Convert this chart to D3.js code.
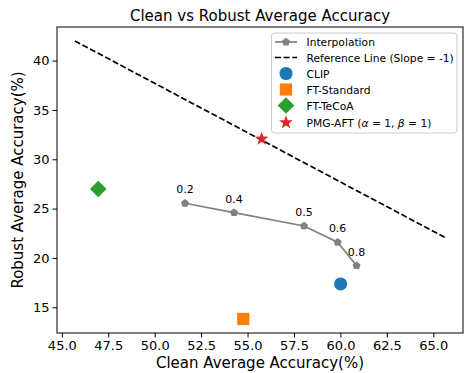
<!DOCTYPE html>
<html><head><meta charset="utf-8">
<script src="https://cdn.jsdelivr.net/npm/d3@7"></script>
<style>body{margin:0;background:#fff}svg{display:block;font-family:"DejaVu Sans",sans-serif}</style>
</head><body><svg id="c" width="464" height="373"></svg>
<script>
// Interpolation series
const interpLabels = ["0.2", "0.4", "0.5", "0.6", "0.8"];
const interpClean = [51.63, 54.27, 58.04, 59.85, 60.87];
const interpRobust = [25.54, 24.59, 23.24, 21.59, 19.21];
// Reference line (slope = -1)
const refClean = [45.7, 65.7];
const refRobust = [42.0, 22.0];
// Methods
const methodNames = ["CLIP", "FT-Standard", "FT-TeCoA", "PMG-AFT"];
const methodClean = [60.01, 54.77, 46.96, 55.76];
const methodRobust = [17.36, 13.81, 26.99, 32.06];
const xTicks = [45, 47.5, 50, 52.5, 55, 57.5, 60, 62.5, 65];
const yTicks = [15, 20, 25, 30, 35, 40];

const svg = d3.select("#c");
const L = 57, R = 463, T = 27, B = 333;
const x = d3.scaleLinear().domain([44.74, 66.6]).range([L, R]);
const y = d3.scaleLinear().domain([12.39, 43.41]).range([B, T]);

const colors = ["#1f77b4", "#ff7f0e", "#2ca02c", "#d62728"];

function polyPath(pts) { return "M" + pts.map(q => q.join(",")).join("L") + "Z"; }
function pentPath(r) {
  let p = [];
  for (let i = 0; i < 5; i++) {
    const a = -Math.PI / 2 + i * 2 * Math.PI / 5;
    p.push([r * Math.cos(a), r * Math.sin(a)]);
  }
  return polyPath(p);
}
function starPath(ro, ri) {
  let p = [];
  for (let i = 0; i < 10; i++) {
    const a = -Math.PI / 2 + i * Math.PI / 5;
    const r = i % 2 ? ri : ro;
    p.push([r * Math.cos(a), r * Math.sin(a)]);
  }
  return polyPath(p);
}
const diamondPath = polyPath([[0, -8.3], [8.3, 0], [0, 8.3], [-8.3, 0]]);
const markerPaths = [
  d3.symbol().type(d3.symbolCircle).size(135)(),
  d3.symbol().type(d3.symbolSquare).size(150)(),
  diamondPath,
  starPath(7.2, 2.9)
];

// Axes
const xAxis = d3.axisBottom(x).tickValues(xTicks).tickFormat(d3.format(".1f")).tickSize(4.5).tickPadding(3);
const yAxis = d3.axisLeft(y).tickValues(yTicks).tickFormat(d3.format("d")).tickSize(4.5).tickPadding(3);
const gx = svg.append("g").attr("transform", `translate(0,${B})`).call(xAxis);
const gy = svg.append("g").attr("transform", `translate(${L},0)`).call(yAxis);
[gx, gy].forEach(g => {
  g.select(".domain").remove();
  g.selectAll("text").attr("font-size", 13).attr("fill", "#000").attr("font-family", "DejaVu Sans");
  g.selectAll("line").attr("stroke", "#000").attr("stroke-width", 1);
});
svg.append("rect").attr("x", L).attr("y", T).attr("width", R - L).attr("height", B - T)
  .attr("fill", "none").attr("stroke", "#000").attr("stroke-width", 1);

// Reference line
svg.append("path")
  .attr("d", d3.line()(refClean.map((c, i) => [x(c), y(refRobust[i])])))
  .attr("fill", "none").attr("stroke", "#000").attr("stroke-width", 1.7)
  .attr("stroke-dasharray", "6,2.6");

// Interpolation
svg.append("path")
  .attr("d", d3.line()(interpClean.map((c, i) => [x(c), y(interpRobust[i])])))
  .attr("fill", "none").attr("stroke", "#808080").attr("stroke-width", 1.7);
svg.selectAll(".ip").data(interpClean).enter().append("path")
  .attr("transform", (d, i) => `translate(${x(d)},${y(interpRobust[i])})`)
  .attr("d", pentPath(4.2)).attr("fill", "#808080");
svg.selectAll(".il").data(interpLabels).enter().append("text")
  .attr("x", (d, i) => x(interpClean[i]))
  .attr("y", (d, i) => y(interpRobust[i]) - 10)
  .attr("text-anchor", "middle").attr("font-size", 11).text(d => d);

// Methods
svg.selectAll(".m").data(methodNames).enter().append("path")
  .attr("transform", (d, i) => `translate(${x(methodClean[i])},${y(methodRobust[i])})`)
  .attr("d", (d, i) => markerPaths[i])
  .attr("fill", (d, i) => colors[i]);

// Title & labels
svg.append("text").attr("x", (L + R) / 2).attr("y", 21).attr("text-anchor", "middle")
  .attr("font-size", 15).text("Clean vs Robust Average Accuracy");
svg.append("text").attr("x", (L + R) / 2).attr("y", 368).attr("text-anchor", "middle")
  .attr("font-size", 15).text("Clean Average Accuracy(%)");
svg.append("text").attr("transform", `translate(23,${(T + B) / 2}) rotate(-90)`).attr("text-anchor", "middle")
  .attr("font-size", 15).text("Robust Average Accuracy(%)");

// Legend
const lg = svg.append("g");
lg.append("rect").attr("x", 271.5).attr("y", 33).attr("width", 185.5).attr("height", 100).attr("rx", 3)
  .attr("fill", "#fff").attr("fill-opacity", 0.8).attr("stroke", "#ccc").attr("stroke-width", 1);
const rowsY = [42, 57.5, 73.5, 89.5, 105.5, 122.5];
const hx0 = 275, hx1 = 297, hxc = 286, tx = 306.5;
lg.append("line").attr("x1", hx0).attr("x2", hx1).attr("y1", rowsY[0]).attr("y2", rowsY[0])
  .attr("stroke", "#808080").attr("stroke-width", 1.7);
lg.append("path").attr("transform", `translate(${hxc},${rowsY[0]})`).attr("d", pentPath(4.2)).attr("fill", "#808080");
lg.append("line").attr("x1", hx0).attr("x2", hx1).attr("y1", rowsY[1]).attr("y2", rowsY[1])
  .attr("stroke", "#000").attr("stroke-width", 1.7).attr("stroke-dasharray", "6,2.6");
methodNames.forEach((n, i) => {
  lg.append("path").attr("transform", `translate(${hxc},${rowsY[i + 2]})`)
    .attr("d", markerPaths[i]).attr("fill", colors[i]);
});
const legendTexts = ["Interpolation", "Reference Line (Slope = -1)", "CLIP", "FT-Standard", "FT-TeCoA"];
legendTexts.forEach((t, i) => {
  lg.append("text").attr("x", tx).attr("y", rowsY[i] + 4).attr("font-size", 10.7).text(t);
});
const pt = lg.append("text").attr("x", tx).attr("y", rowsY[5] + 4).attr("font-size", 10.7);
pt.append("tspan").text("PMG-AFT (");
pt.append("tspan").attr("font-style", "italic").text("α");
pt.append("tspan").text(" = 1, ");
pt.append("tspan").attr("font-style", "italic").text("β");
pt.append("tspan").text(" = 1)");
</script></body></html>
